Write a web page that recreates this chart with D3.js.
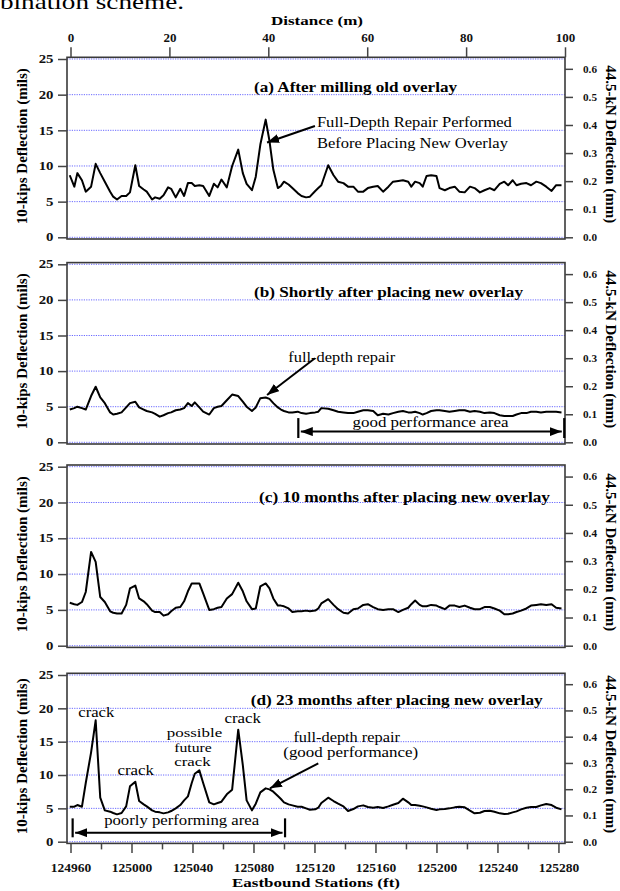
<!DOCTYPE html>
<html>
<head>
<meta charset="utf-8">
<script src="https://cdn.jsdelivr.net/npm/d3@7"></script>
<style>
    body { margin: 0; background: #fff; }
    svg { display: block; font-family: "Liberation Serif", "Times New Roman", serif; }
</style>
</head>
<body>
<svg id="chart" width="620" height="891"></svg>
<script>
// FWD test stations (ft), shared by all four surveys
const stations = [
    124959.5, 124962.5, 124964.5, 124967.5, 124970, 124973.5, 124976.5, 124979.5, 124982.5, 124986,
    124988, 124990.5, 124993.5, 124996.5, 124999, 125002.5, 125005, 125008, 125010, 125013.5,
    125015.5, 125018.5, 125021, 125024, 125026, 125029, 125032, 125034.5, 125037, 125039.5,
    125041.5, 125044.5, 125047, 125051, 125054, 125056.5, 125059, 125062.5, 125066, 125070,
    125073, 125075.5, 125079, 125081.5, 125084.5, 125088, 125090.5, 125093, 125096, 125098,
    125100, 125103, 125105.5, 125109, 125111.5, 125114.5, 125117, 125120.5, 125122.5, 125124.5,
    125129, 125132.5, 125135.5, 125139, 125142, 125145.5, 125148.5, 125152, 125155, 125158.5,
    125161.5, 125165, 125168.5, 125171.5, 125175, 125178, 125181.5, 125183.5, 125186, 125189,
    125191, 125193.5, 125196.5, 125200, 125202, 125205.5, 125208.5, 125212, 125215, 125218.5,
    125222, 125225, 125228.5, 125231.5, 125235, 125238, 125241.5, 125244.5, 125247, 125250,
    125252.5, 125255.5, 125259, 125262, 125265.5, 125268.5, 125272, 125275.5, 125278.5, 125282
];

// 10-kip deflections (mils)
const afterMilling = [
    8.7, 7.1, 9.0, 8.0, 6.4, 7.1, 10.3, 9.0, 7.8, 6.4,
    5.7, 5.3, 5.8, 5.8, 6.3, 10.1, 7.2, 6.7, 6.4, 5.3,
    5.6, 5.4, 5.9, 7.0, 6.8, 5.6, 6.8, 5.8, 7.6, 7.6,
    7.2, 7.3, 7.2, 5.8, 7.5, 7.0, 8.1, 7.0, 10.0, 12.3,
    9.0, 7.5, 6.6, 8.5, 13.0, 16.5, 13.5, 9.5, 6.9, 7.2,
    7.8, 7.4, 6.9, 6.2, 5.8, 5.6, 5.7, 6.5, 6.9, 7.3,
    10.1, 8.7, 7.8, 7.6, 7.1, 7.1, 6.4, 6.4, 6.9, 7.1,
    7.2, 6.4, 7.1, 7.8, 7.9, 8.0, 7.8, 7.1, 7.8, 7.6,
    7.1, 8.6, 8.7, 8.6, 6.9, 6.6, 6.9, 7.1, 6.4, 6.3,
    7.1, 6.9, 6.3, 6.6, 6.9, 6.6, 7.5, 7.8, 7.3, 8.0,
    7.3, 7.5, 7.6, 7.3, 7.8, 7.6, 7.1, 6.5, 7.3, 7.3
];
const shortlyAfter = [
    4.6, 4.8, 5.0, 4.8, 4.6, 6.5, 7.8, 6.3, 5.5, 4.2,
    3.9, 4.0, 4.2, 4.9, 5.5, 5.7, 4.9, 4.6, 4.4, 4.2,
    4.0, 3.6, 3.8, 4.1, 4.2, 4.5, 4.6, 4.8, 5.5, 5.1,
    5.6, 4.9, 4.3, 3.9, 4.8, 5.0, 5.1, 5.9, 6.7, 6.5,
    5.7, 5.0, 4.4, 4.9, 6.2, 6.3, 6.1, 5.5, 4.9, 4.6,
    4.4, 4.2, 4.2, 4.3, 4.1, 4.0, 4.1, 4.2, 4.3, 4.8,
    4.7, 4.5, 4.3, 4.2, 4.1, 4.1, 4.3, 4.5, 4.5, 4.4,
    3.8, 4.0, 3.9, 4.1, 4.3, 4.4, 4.2, 4.2, 4.3, 4.1,
    3.9, 4.1, 4.4, 4.5, 4.5, 4.4, 4.3, 4.4, 4.5, 4.5,
    4.3, 4.4, 4.3, 4.1, 4.2, 4.1, 3.8, 3.7, 3.7, 3.7,
    3.9, 4.1, 4.1, 4.3, 4.3, 4.2, 4.3, 4.3, 4.3, 4.2
];
const tenMonths = [
    6.0, 5.8, 5.7, 6.1, 7.5, 13.1, 11.7, 6.8, 6.1, 4.8,
    4.6, 4.5, 4.5, 5.7, 8.0, 8.4, 6.6, 6.2, 5.8, 4.9,
    4.7, 4.7, 4.2, 4.4, 4.8, 5.3, 5.4, 6.2, 7.6, 8.7,
    8.7, 8.7, 7.3, 5.0, 5.1, 5.3, 5.4, 6.6, 7.2, 8.8,
    7.6, 6.2, 5.1, 5.2, 8.3, 8.7, 8.0, 6.6, 5.6, 5.6,
    5.5, 5.2, 4.7, 4.8, 4.8, 4.9, 4.8, 4.9, 5.2, 5.9,
    6.5, 5.7, 5.1, 4.6, 4.5, 5.1, 5.2, 5.7, 5.8, 5.4,
    5.1, 5.0, 5.1, 5.1, 4.7, 5.0, 5.3, 5.8, 6.3, 5.7,
    5.5, 5.5, 5.7, 5.6, 5.4, 5.1, 5.6, 5.6, 5.4, 5.6,
    5.3, 5.1, 5.1, 5.4, 5.4, 5.2, 4.9, 4.4, 4.4, 4.5,
    4.7, 4.9, 5.2, 5.6, 5.7, 5.8, 5.7, 5.8, 5.3, 5.2
];
const twentyThreeMonths = [
    5.25, 5.25, 5.5, 5.25, 8.8, 13.4, 18.2, 6.6, 4.7, 4.5,
    4.3, 4.1, 4.3, 5.3, 8.3, 9.0, 6.1, 5.6, 5.3, 4.7,
    4.5, 4.4, 4.25, 4.4, 4.6, 5.0, 5.5, 6.2, 6.8, 8.8,
    10.2, 10.7, 8.8, 5.9, 5.6, 5.8, 6.0, 7.1, 7.8, 16.8,
    11.5, 6.2, 4.7, 5.7, 7.4, 8.0, 7.85, 7.5, 6.85, 6.4,
    5.9, 5.6, 5.45, 5.25, 5.25, 5.0, 4.8, 4.85, 5.1, 5.8,
    6.6, 6.1, 5.7, 5.3, 4.6, 4.9, 5.3, 5.45, 5.2, 5.1,
    5.2, 5.05, 5.3, 5.55, 5.8, 6.45, 5.9, 5.5, 5.5, 5.4,
    5.3, 5.15, 4.95, 4.75, 4.85, 4.9, 5.0, 5.15, 5.25, 5.15,
    4.65, 4.25, 4.35, 4.6, 4.65, 4.5, 4.25, 4.15, 4.2, 4.4,
    4.55, 4.85, 5.1, 5.2, 5.2, 5.45, 5.65, 5.5, 5.1, 4.85
];

const panelTitles = [
    "(a) After milling old overlay",
    "(b) Shortly after placing new overlay",
    "(c) 10 months after placing new overlay",
    "(d) 23 months after placing new overlay"
];
const milsTicks = [0, 5, 10, 15, 20, 25];
const mmTicks = [0, 0.1, 0.2, 0.3, 0.4, 0.5, 0.6];
const distanceTicks = [0, 20, 40, 60, 80, 100];
const stationTicks = [124960, 125000, 125040, 125080, 125120, 125160, 125200, 125240, 125280];
const stationMinorTicks = [124980, 125020, 125060, 125100, 125140, 125180, 125220, 125260];

// annotations, placed in data units (station ft, mils)
const notes = [
    { panel: 0, text: "Full-Depth Repair Performed", st: 125121.6, v: 15.4, len: 195, size: 15.5, anchor: "start" },
    { panel: 0, text: "Before Placing New Overlay", st: 125121.6, v: 12.5, len: 191, size: 15.5, anchor: "start" },
    { panel: 1, text: "full-depth repair", st: 125102.8, v: 11.3, len: 107, size: 14.5, anchor: "start" },
    { panel: 1, text: "good performance area", st: 125196.1, v: 2.2, len: 156, size: 14.5, anchor: "middle" },
    { panel: 3, text: "crack", st: 124976.9, v: 18.75, len: 36, size: 14.5, anchor: "middle" },
    { panel: 3, text: "crack", st: 125002.8, v: 10.0, len: 36.5, size: 14.5, anchor: "middle" },
    { panel: 3, text: "possible", st: 125041.3, v: 15.66, len: 55.5, size: 13.5, anchor: "middle" },
    { panel: 3, text: "future", st: 125040.3, v: 13.45, len: 37.5, size: 13.5, anchor: "middle" },
    { panel: 3, text: "crack", st: 125040, v: 11.35, len: 36.5, size: 13.5, anchor: "middle" },
    { panel: 3, text: "crack", st: 125072.9, v: 17.76, len: 36.5, size: 14.5, anchor: "middle" },
    { panel: 3, text: "full-depth repair", st: 125141.1, v: 15.0, len: 106.5, size: 14.5, anchor: "middle" },
    { panel: 3, text: "(good performance)", st: 125143.8, v: 12.7, len: 135, size: 14.5, anchor: "middle" },
    { panel: 3, text: "poorly performing area", st: 125032.9, v: 2.5, len: 155, size: 14.5, anchor: "middle" }
];
const pointers = [
    { panel: 0, from: [125120.3, 15.6], to: [125088.9, 13.3] },
    { panel: 1, from: [125120.3, 11.8], to: [125088.9, 6.65] },
    { panel: 3, from: [125122.5, 11.76], to: [125090.8, 8.0] }
];
const spans = [
    { panel: 1, from: 125109.4, to: 125283.8, v: 1.5, barTop: 3.4, barBottom: 0.6 },
    { panel: 3, from: 124961.4, to: 125100.7, v: 1.35, barTop: 3.5, barBottom: 0.66 }
];

// page layout for the four stacked panels
const plotLeft = 67;
const plotRight = 565;
const framePad = 1.7;
const serif = '"Liberation Serif", "Times New Roman", serif';
const layout = [
    { top: 59, bottom: 237.3, titleX: 254, titleDy: 32.5, titleLen: 203 },
    { top: 264.3, bottom: 442.3, titleX: 254, titleDy: 32.7, titleLen: 269 },
    { top: 466.7, bottom: 645.7, titleX: 259, titleDy: 35, titleLen: 291 },
    { top: 675, bottom: 841.7, titleX: 250.7, titleDy: 30, titleLen: 292 }
];
const series = [afterMilling, shortlyAfter, tenMonths, twentyThreeMonths];

const svg = d3.select("#chart");

svg.append("defs").append("marker")
    .attr("id", "head")
    .attr("viewBox", "0 0 12 9")
    .attr("refX", 12)
    .attr("refY", 4.5)
    .attr("markerWidth", 12)
    .attr("markerHeight", 9)
    .attr("markerUnits", "userSpaceOnUse")
    .attr("orient", "auto-start-reverse")
    .append("path")
    .attr("d", "M0,0L12,4.5L0,9Z")
    .attr("fill", "#000");

const x = d3.scaleLinear().domain([124957.7, 125284.3]).range([plotLeft, plotRight]);
const xMeters = d3.scaleLinear().domain([0, 100]).range([x(124960), plotRight]);

// cut-off caption line from the page above
svg.append("text")
    .attr("x", 0)
    .attr("y", 9)
    .attr("textLength", 184)
    .attr("lengthAdjust", "spacingAndGlyphs")
    .style("font-size", "21px")
    .text("bination scheme.");

function styleTicks(g) {
    g.attr("font-family", serif);
    g.select(".domain").remove();
    g.selectAll(".tick line").attr("stroke", "#444").attr("stroke-width", 1.5);
    g.selectAll(".tick text").attr("fill", "#111").style("font-weight", "bold");
}

panelTitles.forEach((title, i) => {
    const box = layout[i];
    const y = d3.scaleLinear().domain([0, 25]).range([box.bottom, box.top]);
    const yMm = d3.scaleLinear().domain([0, 25 * 0.0254]).range([box.bottom, box.top]);
    const g = svg.append("g").attr("class", "panel");

    // dotted grid
    g.selectAll(".grid")
        .data(milsTicks)
        .join("line")
        .attr("class", "grid")
        .attr("x1", plotLeft)
        .attr("x2", plotRight)
        .attr("y1", d => y(d))
        .attr("y2", d => y(d))
        .attr("stroke", "#6a6aff")
        .attr("stroke-width", 1)
        .attr("stroke-dasharray", "1.2,1.2");

    // deflection profile
    const line = d3.line()
        .x(d => x(d[0]))
        .y(d => y(d[1]));
    g.append("path")
        .datum(d3.zip(stations, series[i]))
        .attr("d", line)
        .attr("fill", "none")
        .attr("stroke", "#000")
        .attr("stroke-width", 2)
        .attr("stroke-linejoin", "round");

    // frame
    g.append("rect")
        .attr("x", plotLeft)
        .attr("y", box.top - framePad)
        .attr("width", plotRight - plotLeft)
        .attr("height", box.bottom - box.top + 2 * framePad)
        .attr("fill", "none")
        .attr("stroke", "#3a3a3a")
        .attr("stroke-width", 1.6);

    // left axis (mils)
    g.append("g")
        .attr("transform", `translate(${plotLeft},0)`)
        .call(d3.axisLeft(y).tickValues(milsTicks).tickSize(9).tickPadding(4.5))
        .call(styleTicks)
        .call(a => a.selectAll(".tick text")
            .style("font-size", "11.5px")
            .attr("textLength", d => String(d).length * 7.4)
            .attr("lengthAdjust", "spacingAndGlyphs"));

    // right axis (mm)
    g.append("g")
        .attr("transform", `translate(${plotRight},0)`)
        .call(d3.axisRight(yMm).tickValues(mmTicks).tickSize(8).tickPadding(10).tickFormat(d3.format(".1f")))
        .call(styleTicks)
        .call(a => a.selectAll(".tick text")
            .style("font-size", "10.5px")
            .attr("textLength", 14)
            .attr("lengthAdjust", "spacingAndGlyphs"));

    const mid = (box.top + box.bottom) / 2;
    g.append("text")
        .attr("transform", `translate(26.5,${mid - 2}) rotate(-90)`)
        .attr("text-anchor", "middle")
        .attr("textLength", 156)
        .attr("lengthAdjust", "spacingAndGlyphs")
        .style("font-size", "14px")
        .style("font-weight", "bold")
        .text("10-kips Deflection (mils)");

    g.append("text")
        .attr("transform", `translate(605.5,${mid - 4}) rotate(90)`)
        .attr("text-anchor", "middle")
        .attr("textLength", 158)
        .attr("lengthAdjust", "spacingAndGlyphs")
        .style("font-size", "14px")
        .style("font-weight", "bold")
        .text("44.5-kN Deflection (mm)");

    // panel title
    g.append("text")
        .attr("x", box.titleX)
        .attr("y", box.top + box.titleDy)
        .attr("textLength", box.titleLen)
        .attr("lengthAdjust", "spacingAndGlyphs")
        .style("font-size", "14px")
        .style("font-weight", "bold")
        .text(title);

    // annotations
    notes.filter(n => n.panel === i).forEach(n => {
        g.append("text")
            .attr("x", x(n.st))
            .attr("y", y(n.v))
            .attr("text-anchor", n.anchor)
            .attr("textLength", n.len)
            .attr("lengthAdjust", "spacingAndGlyphs")
            .style("font-size", n.size + "px")
            .text(n.text);
    });

    pointers.filter(p => p.panel === i).forEach(p => {
        g.append("line")
            .attr("x1", x(p.from[0]))
            .attr("y1", y(p.from[1]))
            .attr("x2", x(p.to[0]))
            .attr("y2", y(p.to[1]))
            .attr("stroke", "#000")
            .attr("stroke-width", 2)
            .attr("marker-end", "url(#head)");
    });

    spans.filter(s => s.panel === i).forEach(s => {
        g.append("line")
            .attr("x1", x(s.from) + 2.5)
            .attr("x2", x(s.to) - 2.5)
            .attr("y1", y(s.v))
            .attr("y2", y(s.v))
            .attr("stroke", "#000")
            .attr("stroke-width", 2)
            .attr("marker-start", "url(#head)")
            .attr("marker-end", "url(#head)");
        [s.from, s.to].forEach(st => {
            g.append("line")
                .attr("x1", x(st))
                .attr("x2", x(st))
                .attr("y1", y(s.barTop))
                .attr("y2", y(s.barBottom))
                .attr("stroke", "#000")
                .attr("stroke-width", 2.2);
        });
    });

    // top distance axis on the first panel
    if (i === 0) {
        svg.append("g")
            .attr("transform", `translate(0,${box.top - framePad})`)
            .call(d3.axisTop(xMeters).tickValues(distanceTicks).tickSize(10).tickPadding(5.8))
            .call(styleTicks)
            .call(a => a.selectAll(".tick text").style("font-size", "13px"));

        svg.append("text")
            .attr("x", 317)
            .attr("y", 25)
            .attr("text-anchor", "middle")
            .attr("textLength", 92)
            .attr("lengthAdjust", "spacingAndGlyphs")
            .style("font-size", "13px")
            .style("font-weight", "bold")
            .text("Distance (m)");
    }

    // station axis under the last panel
    if (i === panelTitles.length - 1) {
        const base = box.bottom + framePad;
        svg.append("g")
            .attr("transform", `translate(0,${base})`)
            .call(d3.axisBottom(x).tickValues(stationTicks).tickSize(9.5).tickPadding(9.6).tickFormat(d3.format("d")))
            .call(styleTicks)
            .call(a => a.selectAll(".tick text").style("font-size", "13.5px"));

        svg.append("g")
            .attr("transform", `translate(0,${base})`)
            .call(d3.axisBottom(x).tickValues(stationMinorTicks).tickSize(6).tickFormat(""))
            .call(styleTicks);

        svg.append("text")
            .attr("x", 316)
            .attr("y", 886.7)
            .attr("text-anchor", "middle")
            .attr("textLength", 168)
            .attr("lengthAdjust", "spacingAndGlyphs")
            .style("font-size", "13px")
            .style("font-weight", "bold")
            .text("Eastbound Stations (ft)");
    }
});
</script>
</body>
</html>
